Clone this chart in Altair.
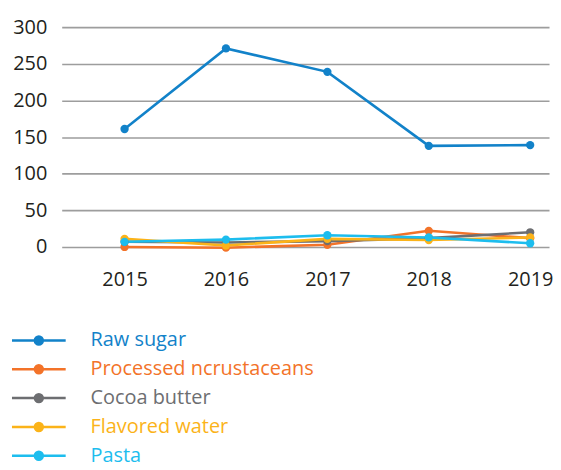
import altair as alt
import pandas as pd

years = [2015, 2016, 2017, 2018, 2019]
series_names = ["Raw sugar", "Processed ncrustaceans", "Cocoa butter", "Flavored water", "Pasta"]
raw_sugar = [161, 271, 239, 138, 139]
processed_ncrustaceans = [0, -1, 3, 22, 12]
cocoa_butter = [7, 6, 8, 12, 20]
flavored_water = [11, 2, 11, 9.5, 13]
pasta = [7, 10, 16, 13, 5]
colors = ["#1282c9", "#f37329", "#6d6e71", "#fbb319", "#1dbdee"]

all_values = [raw_sugar, processed_ncrustaceans, cocoa_butter, flavored_water, pasta]
rows = []
for name, vals in zip(series_names, all_values):
    for y, v in zip(years, vals):
        rows.append({"year": y, "value": v, "series": name})
df = pd.DataFrame(rows)

FONT = "Open Sans"
symbol_path = "M-6.75,0L6.75,0M-1,0A1,1,0,1,1,1,0A1,1,0,1,1,-1,0Z"

chart = alt.Chart(df).mark_line(
    strokeWidth=2.6,
    point=alt.OverlayMarkDef(size=70, filled=True, opacity=1),
).encode(
    x=alt.X("year:Q",
            scale=alt.Scale(domain=[2014.38, 2019.186], nice=False, zero=False),
            axis=alt.Axis(values=years, format="d", title=None, grid=False, domain=False,
                          ticks=False, labelPadding=23, labelFontSize=20, labelFont=FONT,
                          labelColor="#231f20")),
    y=alt.Y("value:Q",
            scale=alt.Scale(domain=[0, 300], nice=False),
            axis=alt.Axis(values=[0, 50, 100, 150, 200, 250, 300], title=None, domain=False,
                          ticks=False, labelPadding=15, labelFontSize=20, labelFont=FONT,
                          labelColor="#231f20", gridColor="#9d9d9d", gridWidth=1.6)),
    color=alt.Color("series:N",
                    scale=alt.Scale(domain=series_names, range=colors),
                    legend=alt.Legend(title=None, orient="none", legendX=-33, legendY=305,
                                      symbolType=symbol_path, symbolSize=64,
                                      symbolStrokeWidth=2.5, labelOffset=42,
                                      labelFontSize=20, labelFont=FONT, rowPadding=9,
                                      labelColor=alt.ExprRef("scale('color', datum.value)"),
                                      labelLimit=400)),
).properties(
    width=490, height=221,
    padding={"left": 4, "top": 8, "right": 0, "bottom": 0},
).configure_view(stroke=None)

chart.save("out.html", embed_options={"renderer": "svg", "actions": False})
